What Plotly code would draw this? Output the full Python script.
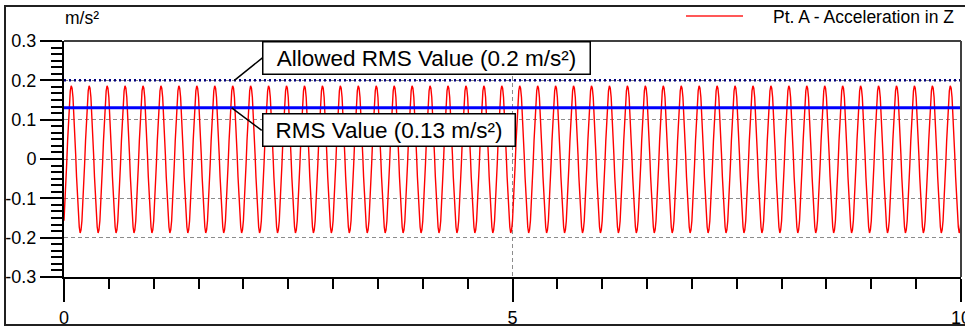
import plotly.graph_objects as go

# ---------------- data ----------------
series_name = "Pt. A - Acceleration in Z"
y_unit = "m/s²"

# one period (0.2 s, 5 Hz) of the acceleration signal, sampled every 0.01 s
cycle_values = [-0.157, -0.119, -0.068, -0.012, 0.046, 0.100, 0.143, 0.173, 0.186, 0.180,
                0.157, 0.119, 0.068, 0.012, -0.046, -0.100, -0.143, -0.173, -0.188, -0.180]
n_cycles = 50            # number of periods visible between 0 and 10 s
time_step = 0.01         # s
end_value = -0.157       # sample at t = 10 s

rms_value = 0.13
allowed_rms = 0.2
rms_label = "RMS Value (0.13 m/s²)"
allowed_label = "Allowed RMS Value (0.2 m/s²)"
rms_label_x = 1.87
allowed_label_x = 1.90

x_range = [0, 10]
y_range = [-0.3, 0.3]
x_tick_vals = [0, 5, 10]
x_tick_text = ["0", "5", "10"]
y_tick_vals = [-0.3, -0.2, -0.1, 0, 0.1, 0.2, 0.3]
y_tick_text = ["-0.3", "-0.2", "-0.1", "0", "0.1", "0.2", "0.3"]

# ---------------- build series ----------------
signal = cycle_values * n_cycles + [end_value]
times = [i * time_step for i in range(len(signal))]

FONT = "Arial, Liberation Sans, sans-serif"
W, H = 965, 327
ML, MR, MT, MB = 64, 4, 41, 50
PW, PH = W - ML - MR, H - MT - MB


def px(xp):
    return (xp - ML) / PW


def py(yp):
    return (H - MB - yp) / PH


fig = go.Figure()
fig.add_trace(go.Scatter(x=times, y=signal, mode="lines", name=series_name,
                         line=dict(color="#ff0000", width=1.4), showlegend=False))
fig.add_trace(go.Scatter(x=x_range, y=[allowed_rms, allowed_rms], mode="lines",
                         line=dict(color="#000080", width=2.5, dash="2px,3px"),
                         showlegend=False))
fig.add_trace(go.Scatter(x=x_range, y=[rms_value, rms_value], mode="lines",
                         line=dict(color="#0000ff", width=3), showlegend=False))

fig.update_layout(
    width=W, height=H,
    margin=dict(l=ML, r=MR, t=MT, b=MB, autoexpand=False),
    paper_bgcolor="white", plot_bgcolor="white",
    font=dict(family=FONT, size=17, color="black"),
    showlegend=False,
)

fig.update_xaxes(
    range=x_range, tickmode="array", tickvals=x_tick_vals, ticktext=x_tick_text,
    ticks="outside", ticklen=23, tickwidth=2, tickcolor="black",
    showline=True, linecolor="black", linewidth=2,
    showgrid=True, gridcolor="#8c8c8c", gridwidth=1.2, griddash="4px,3px",
    zeroline=False, automargin=False, ticklabeloverflow="allow",
    tickfont=dict(family=FONT, size=18),
    minor=dict(tickmode="linear", tick0=0, dtick=0.5, ticks="outside", ticklen=10,
               tickwidth=2, tickcolor="black", showgrid=False),
)
fig.update_yaxes(
    range=y_range, tickmode="array", tickvals=y_tick_vals, ticktext=y_tick_text,
    ticks="outside", ticklen=22, tickwidth=2, tickcolor="black",
    showline=True, linecolor="black", linewidth=2,
    showgrid=True, gridcolor="#8c8c8c", gridwidth=1.2, griddash="4px,3px",
    zeroline=False, automargin=False,
    tickfont=dict(family=FONT, size=18),
    minor=dict(tickmode="linear", tick0=0, dtick=0.1 / 6, ticks="outside", ticklen=11,
               tickwidth=2, tickcolor="black", showgrid=False),
)

shapes = [
    # outer frame
    dict(type="rect", xref="paper", yref="paper", x0=px(5), x1=px(969), y0=py(325), y1=py(6),
         line=dict(color="#202020", width=2), fillcolor="rgba(0,0,0,0)", layer="below"),
    # plot-area frame (top and right)
    dict(type="line", xref="paper", yref="paper", x0=0, x1=1, y0=1, y1=1,
         line=dict(color="#404040", width=2)),
    dict(type="line", xref="paper", yref="paper", x0=1, x1=1, y0=0, y1=1,
         line=dict(color="#404040", width=2)),
    # legend sample line
    dict(type="line", xref="paper", yref="paper", x0=px(686), x1=px(743), y0=py(16), y1=py(16),
         line=dict(color="#ff2020", width=1.5)),
]
fig.update_layout(shapes=shapes)

annotations = [
    dict(text=series_name, xref="paper", yref="paper", x=px(771), y=py(17),
         xanchor="left", yanchor="middle", showarrow=False,
         font=dict(family=FONT, size=17.5, color="black")),
    dict(text=y_unit, xref="paper", yref="paper", x=px(63), y=py(18),
         xanchor="left", yanchor="middle", showarrow=False,
         font=dict(family=FONT, size=17.5, color="black")),
    dict(text=allowed_label, x=allowed_label_x, y=allowed_rms, xref="x", yref="y",
         showarrow=True, arrowhead=0, arrowwidth=1.5, arrowcolor="black",
         ax=28, ay=-22.5, xanchor="left", yanchor="middle",
         width=324, height=29, align="center",
         bgcolor="white", bordercolor="black", borderwidth=1.5, borderpad=1,
         font=dict(family=FONT, size=22.5, color="black")),
    dict(text=rms_label, x=rms_label_x, y=rms_value, xref="x", yref="y",
         showarrow=True, arrowhead=0, arrowwidth=1.5, arrowcolor="black",
         ax=30, ay=22.5, xanchor="left", yanchor="middle",
         width=249, height=29, align="center",
         bgcolor="white", bordercolor="black", borderwidth=1.5, borderpad=1,
         font=dict(family=FONT, size=22.5, color="black")),
]
fig.update_layout(annotations=annotations)

fig.write_html("out.html", config={"displayModeBar": False},
               post_script="document.body.style.margin='0';document.body.style.overflow='hidden';")
